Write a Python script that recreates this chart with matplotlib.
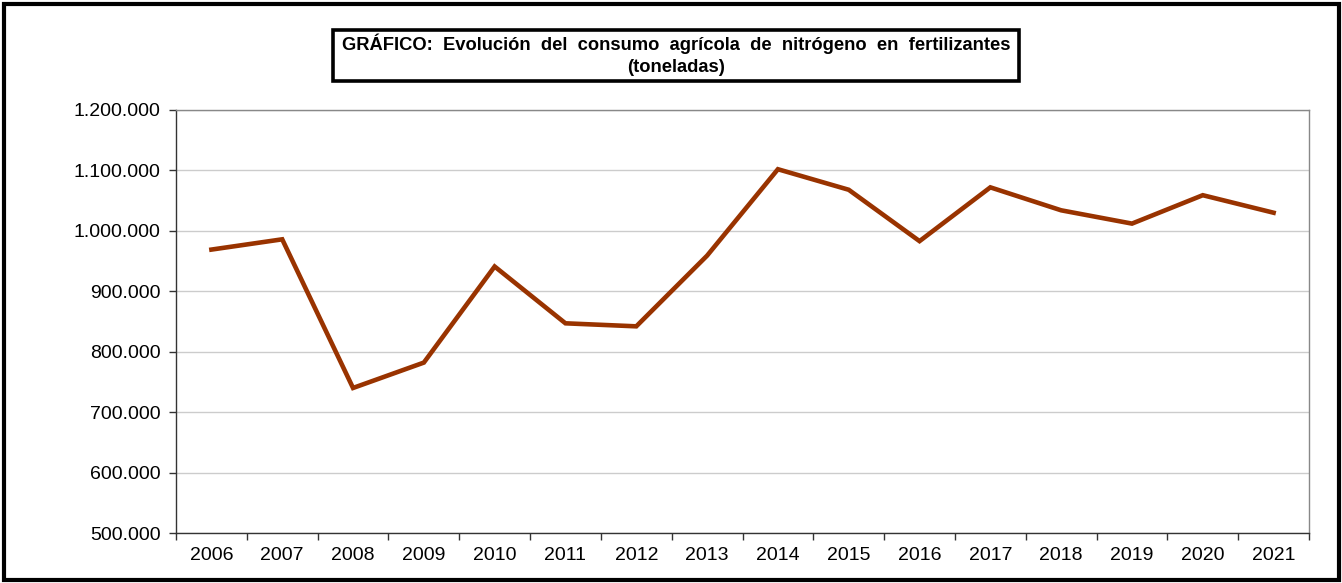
import matplotlib
matplotlib.use("Agg")
import matplotlib.pyplot as plt
from matplotlib.patches import Rectangle
from matplotlib.ticker import FuncFormatter, FixedLocator

plt.rcParams['font.family'] = ['Liberation Sans', 'DejaVu Sans']

years = ['2006', '2007', '2008', '2009', '2010', '2011', '2012', '2013',
         '2014', '2015', '2016', '2017', '2018', '2019', '2020', '2021']
consumo = [969000, 986000, 740000, 782000, 941000, 847000, 842000, 959000,
           1102000, 1068000, 983000, 1072000, 1034000, 1012000, 1059000, 1030000]
yticks = [500000, 600000, 700000, 800000, 900000, 1000000, 1100000, 1200000]
title_line1 = "GRÁFICO:  Evolución  del  consumo  agrícola  de  nitrógeno  en  fertilizantes"
title_line2 = "(toneladas)"

W, H = 1342, 583
fig = plt.figure(figsize=(W / 100, H / 100), dpi=100)
fig.patch.set_facecolor('white')

# plot area in pixels: x 176-1309, y 110-533
ax = fig.add_axes([176 / W, 1 - 533 / H, (1309 - 176) / W, (533 - 110) / H])
x = list(range(len(years)))
ax.plot(x, consumo, color='#993300', lw=3.3, solid_joinstyle='miter', zorder=3)

ax.set_xlim(-0.5, len(years) - 0.5)
ax.set_ylim(yticks[0], yticks[-1])
ax.set_yticks(yticks)
ax.yaxis.set_major_formatter(FuncFormatter(lambda v, p: f"{int(v):,}".replace(',', '.')))
ax.grid(axis='y', color='#cccccc', lw=1.0, zorder=0)

ax.set_xticks(x)
ax.set_xticklabels(years)
ax.xaxis.set_minor_locator(FixedLocator([i - 0.5 for i in range(len(years) + 1)]))
ax.tick_params(axis='x', which='major', length=0, pad=10, labelsize=14, colors='black')
ax.tick_params(axis='x', which='minor', length=5, width=1, color='#333333', direction='out')
ax.tick_params(axis='y', length=5, width=1, color='#333333', pad=6, labelsize=14)

for s in ['left', 'bottom']:
    ax.spines[s].set_color('#333333')
    ax.spines[s].set_linewidth(1.0)
for s in ['top', 'right']:
    ax.spines[s].set_color('#888888')
    ax.spines[s].set_linewidth(1.0)

# outer frame
fig.patches.append(Rectangle((3.5 / W, 3.5 / H), (W - 7) / W, (H - 7) / H,
                             transform=fig.transFigure, fill=False,
                             edgecolor='black', lw=3.0, zorder=10))

# title box
bx0, bx1, by0, by1 = 333, 1019, 30, 81
fig.patches.append(Rectangle((bx0 / W, 1 - by1 / H), (bx1 - bx0) / W, (by1 - by0) / H,
                             transform=fig.transFigure, fill=True, facecolor='white',
                             edgecolor='black', lw=2.6, zorder=10))
cx = (bx0 + bx1) / 2 / W
fig.text(cx, 1 - 44 / H, title_line1, ha='center', va='center', fontsize=13.2,
         fontweight='bold', zorder=11)
fig.text(cx, 1 - 67 / H, title_line2, ha='center', va='center', fontsize=13.2,
         fontweight='bold', zorder=11)

fig.savefig('out.png', dpi=100, facecolor='white')
